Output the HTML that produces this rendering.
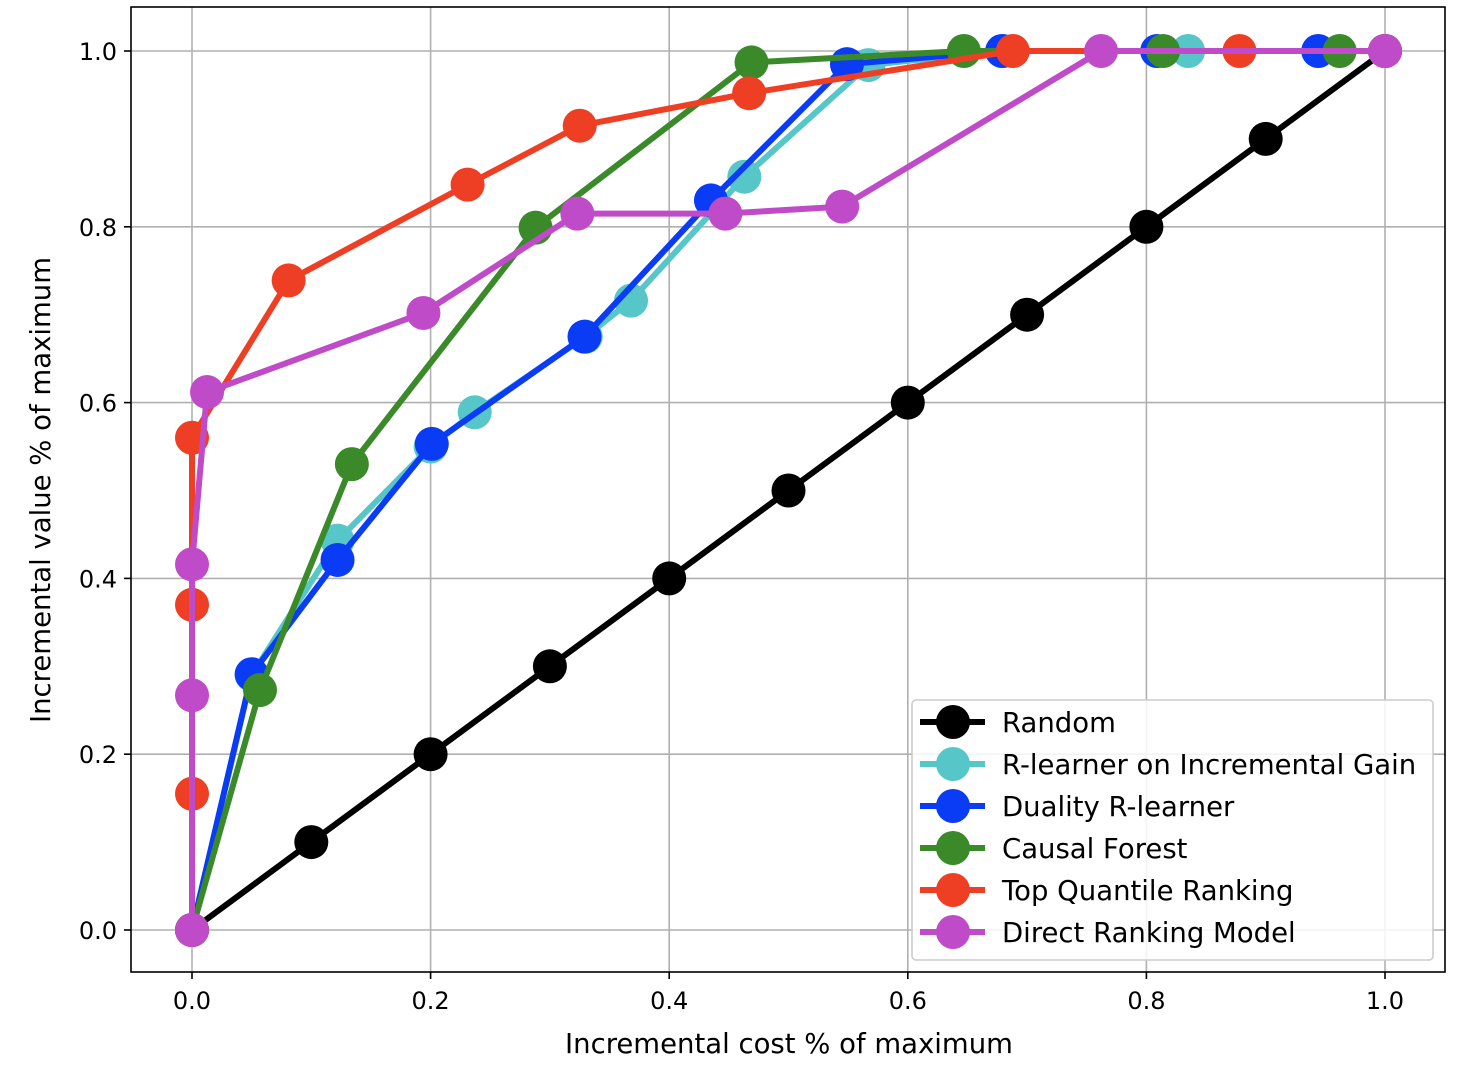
<!DOCTYPE html>
<html><head><meta charset="utf-8"><style>
html,body{margin:0;padding:0;background:#fff;}
svg{display:block;font-family:"DejaVu Sans","Liberation Sans",sans-serif;}
</style></head><body>
<svg id="chart" width="1458" height="1084" viewBox="0 0 1458 1084"></svg>
<script>
const xTicks=[0,0.2,0.4,0.6,0.8,1.0];
const yTicks=[0,0.2,0.4,0.6,0.8,1.0];
const seriesNames=["Random","R-learner on Incremental Gain","Duality R-learner","Causal Forest","Top Quantile Ranking","Direct Ranking Model"];
const seriesColors=["#000000","#57c6c9","#0a3bf5","#3a8a2a","#ee3f24","#c04bc8"];
const randomX=[0,0.1,0.2,0.3,0.4,0.5,0.6,0.7,0.8,0.9,1.0];
const randomY=[0,0.1,0.2,0.3,0.4,0.5,0.6,0.7,0.8,0.9,1.0];
const cyanX=[0,0.05,0.122,0.2,0.237,0.33,0.368,0.463,0.567,0.68,0.835,1.0];
const cyanY=[0,0.29,0.443,0.55,0.589,0.675,0.716,0.857,0.984,1.0,1.0,1.0];
const blueX=[0,0.05,0.122,0.201,0.329,0.435,0.549,0.679,0.809,0.944,1.0];
const blueY=[0,0.291,0.421,0.553,0.675,0.830,0.985,1.0,1.0,1.0,1.0];
const greenX=[0,0.057,0.134,0.288,0.469,0.647,0.814,0.962,1.0];
const greenY=[0,0.273,0.530,0.799,0.987,1.0,1.0,1.0,1.0];
const redX=[0,0,0,0,0.081,0.231,0.325,0.467,0.688,0.878,1.0];
const redY=[0,0.155,0.37,0.56,0.739,0.848,0.915,0.952,1.0,1.0,1.0];
const purpleX=[0,0,0,0.0126,0.194,0.323,0.447,0.545,0.762,1.0];
const purpleY=[0,0.267,0.416,0.612,0.702,0.815,0.815,0.823,1.0,1.0];

const NS="http://www.w3.org/2000/svg";
const svg=document.getElementById('chart');
const sx=v=>192+v*1193;
const sy=v=>930-v*879;
function mk(tag,attrs,parent){const e=document.createElementNS(NS,tag);for(const k in attrs)e.setAttribute(k,attrs[k]);(parent||svg).appendChild(e);return e;}

xTicks.forEach(t=>{
  const g=mk('line',{x1:sx(t),x2:sx(t),y1:7,y2:972,stroke:'#b0b0b0','stroke-width':1.6});
  
  
  mk('line',{x1:sx(t),x2:sx(t),y1:972,y2:979,stroke:'#000','stroke-width':1.6});
  const tx=mk('text',{x:sx(t),y:1009,'font-size':24,'text-anchor':'middle',fill:'#000'});
  tx.textContent=t.toFixed(1);
  
  
});
yTicks.forEach(t=>{
  const g=mk('line',{x1:131,x2:1445,y1:sy(t),y2:sy(t),stroke:'#b0b0b0','stroke-width':1.6});
  
  
  mk('line',{x1:124,x2:131,y1:sy(t),y2:sy(t),stroke:'#000','stroke-width':1.6});
  const tx=mk('text',{x:117,y:sy(t)+9,'font-size':24,'text-anchor':'end',fill:'#000'});
  tx.textContent=t.toFixed(1);
  
  
});

const allX=[randomX,cyanX,blueX,greenX,redX,purpleX];
const allY=[randomY,cyanY,blueY,greenY,redY,purpleY];
allX.forEach((xs,i)=>{
  const g=mk('g',{});
  
  
  const pts=xs.map((x,j)=>sx(x)+','+sy(allY[i][j])).join(' ');
  mk('polyline',{points:pts,fill:'none',stroke:seriesColors[i],'stroke-width':6,'stroke-linejoin':'round'},g);
  xs.forEach((x,j)=>{
    const c=mk('circle',{cx:sx(x),cy:sy(allY[i][j]),r:17,fill:seriesColors[i]},g);
    
    
  });
});

const fr=mk('rect',{x:131,y:7,width:1314,height:965,fill:'none',stroke:'#000','stroke-width':1.6});



const xl=mk('text',{x:789,y:1053,'font-size':27.5,'text-anchor':'middle',fill:'#000'});
xl.textContent='Incremental cost % of maximum';


const yl=mk('text',{x:0,y:0,'font-size':27.5,'text-anchor':'middle',fill:'#000',transform:'translate(50,490) rotate(-90)'});
yl.textContent='Incremental value % of maximum';



const lg=mk('g',{});


mk('rect',{x:912,y:700,width:521,height:260,rx:4,fill:'#fff','fill-opacity':0.85,stroke:'#cccccc','stroke-width':1.6},lg);
seriesNames.forEach((n,i)=>{
  const y=722+i*42;
  const e=mk('g',{},lg);
  
  
  mk('line',{x1:920,x2:985,y1:y,y2:y,stroke:seriesColors[i],'stroke-width':6},e);
  mk('circle',{cx:953,cy:y,r:17,fill:seriesColors[i]},e);
  const t=mk('text',{x:1002,y:y+10,'font-size':27.5,fill:'#000'},e);
  t.textContent=n;
});
</script>
</body></html>
